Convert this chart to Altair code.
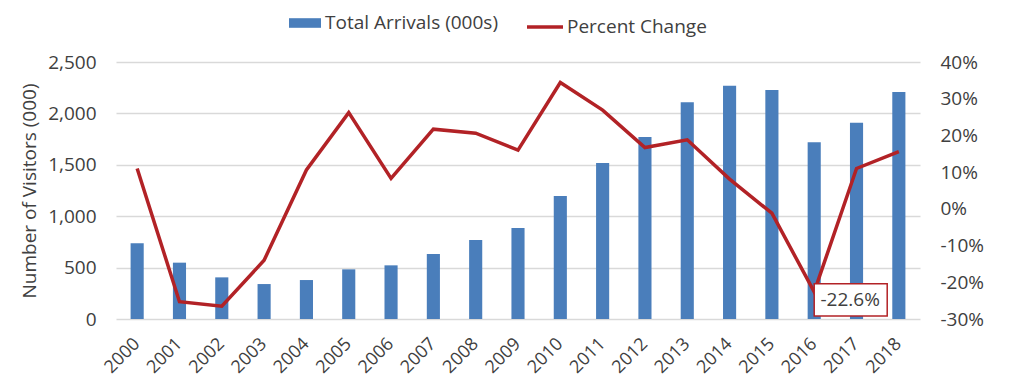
import altair as alt
import pandas as pd

years = [str(y) for y in range(2000, 2019)]
arrivals = [736, 548, 405, 340, 379, 483, 522, 632, 768, 885, 1196, 1517, 1770, 2108, 2270, 2228, 1719, 1910, 2208]
pct_change = [0.110, -0.253, -0.265, -0.140, 0.106, 0.262, 0.083, 0.217, 0.206, 0.160, 0.344, 0.269, 0.167, 0.188, 0.081, -0.012, -0.226, 0.110, 0.156]
left_ticks = [0, 500, 1000, 1500, 2000, 2500]
right_ticks = [-0.3, -0.2, -0.1, 0.0, 0.1, 0.2, 0.3, 0.4]
series_bar = "Total Arrivals (000s)"
series_line = "Percent Change"
label_year = "2016"
label_value = -0.226
label_text = "-22.6%"

BLUE = "#4A7EBB"
RED = "#B22226"
FONT = "Open Sans"
TXT = "#404040"
FS = 19

df = pd.DataFrame({"year": years, "arrivals": arrivals, "pct": pct_change,
                   "s_bar": [series_bar] * len(years), "s_line": [series_line] * len(years)})
lab = pd.DataFrame({"year": [label_year], "pct": [label_value], "text": [label_text]})

xenc = alt.X("year:N", sort=years, title=None,
             scale=alt.Scale(paddingInner=0.69, paddingOuter=0.345),
             axis=alt.Axis(labelAngle=-45, labelAlign="right", labelBaseline="middle",
                           ticks=False, domain=False, labelPadding=22,
                           labelFontSize=18, labelFont=FONT, labelColor=TXT))

bars = alt.Chart(df).mark_bar().encode(
    x=xenc,
    y=alt.Y("arrivals:Q", title="Number of Visitors (000)",
            scale=alt.Scale(domain=[0, 2500], nice=False, zero=True),
            axis=alt.Axis(values=left_ticks, format=",.0f", ticks=False, domain=False,
                          grid=True, gridColor="#D9D9D9", gridWidth=1.3, labelOverlap=False,
                          labelPadding=20, labelFontSize=FS, labelFont=FONT, labelColor=TXT,
                          titleFontSize=FS, titleFont=FONT, titleColor=TXT, titleFontWeight="normal",
                          titlePadding=8)),
    fill=alt.Fill("s_bar:N",
                  scale=alt.Scale(domain=[series_bar], range=[BLUE]),
                  legend=alt.Legend(title=None, orient="none", legendX=173, legendY=-55,
                                    symbolType="M-1,-0.3 L1,-0.3 L1,0.3 L-1,0.3 Z",
                                    symbolSize=1024, symbolStrokeWidth=0, symbolOpacity=1,
                                    labelFontSize=FS, labelFont=FONT, labelColor=TXT,
                                    labelOffset=4, labelLimit=400, padding=0))
)

yr = alt.Scale(domain=[-0.3, 0.4], nice=False, zero=False)
right_axis = alt.Axis(orient="right", values=right_ticks, ticks=False,
                      labelExpr="replace(format(datum.value, '.0%'), '\u2212', '-')",
                      labelOverlap=False, labelBound=False,
                      domain=False, grid=False, labelPadding=20,
                      labelFontSize=FS, labelFont=FONT, labelColor=TXT)
yenc = alt.Y("pct:Q", title=None, scale=yr, axis=right_axis)

line = alt.Chart(df).mark_line(strokeWidth=3.5, strokeJoin="miter").encode(
    x=alt.X("year:N", sort=years),
    y=yenc,
    stroke=alt.Stroke("s_line:N",
                      scale=alt.Scale(domain=[series_line], range=[RED]),
                      legend=alt.Legend(title=None, orient="none", legendX=409, legendY=-55,
                                        symbolType="M-1,0 L1,0", symbolSize=1296,
                                        symbolStrokeWidth=3.5,
                                        labelFontSize=FS, labelFont=FONT, labelColor=TXT,
                                        labelOffset=2, labelLimit=400, padding=0))
)

box = alt.Chart(lab).mark_point(
    shape="M0,-0.22 L2,-0.22 L2,0.66 L0,0.66 Z", size=5329,
    filled=False, fill="white", fillOpacity=1, stroke=RED, strokeWidth=1.5, opacity=1
).encode(
    x=alt.X("year:N", sort=years),
    y=yenc,
)

text = alt.Chart(lab).mark_text(
    dx=36, dy=8, align="center", baseline="middle", fontSize=FS, font=FONT, color=TXT
).encode(
    x=alt.X("year:N", sort=years),
    y=yenc,
    text="text:N",
)

chart = alt.layer(bars, alt.layer(line, box, text)).resolve_scale(y="independent").properties(
    width=804, height=257,
    background="white",
    autosize=alt.AutoSizeParams(type="none"),
    padding={"left": 108, "top": 54, "right": 90, "bottom": 60},
).configure_view(stroke=None).configure_axisRight(labelOverlap=False)

chart.save("out.html", embed_options={"renderer": "svg", "actions": False})
